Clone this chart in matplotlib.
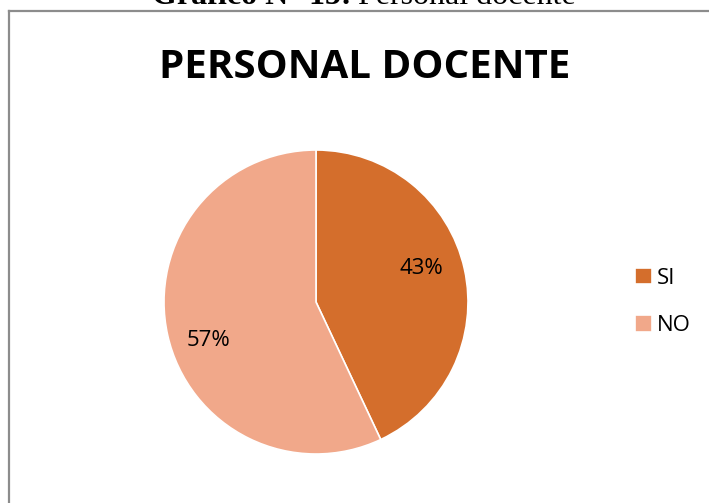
import matplotlib
matplotlib.use("Agg")
import matplotlib.pyplot as plt
from matplotlib.lines import Line2D

labels = ["SI", "NO"]
values = [43, 57]
colors = ["#D46E2C", "#F1A88A"]
title = "PERSONAL DOCENTE"

W, H = 709, 503
fig = plt.figure(figsize=(W / 100, H / 100), dpi=100)

def fx(px):
    return px / W

def fy(py):
    return 1 - py / H

# frame of the chart area
fig.add_artist(Line2D([fx(8.5), fx(8.5)], [fy(11), fy(510)], color="#8c8c8c", lw=1.6))
fig.add_artist(Line2D([fx(8.5), fx(720)], [fy(11), fy(11)], color="#8c8c8c", lw=1.6))

# caption cut off at top
t1 = fig.text(fx(152), fy(4.5), "Gráfico N° 15:", family="Liberation Serif", fontweight="bold",
              fontsize=23, va="baseline", ha="left")
fig.canvas.draw()
bb = t1.get_window_extent()
fig.text(fx(bb.x1 + 6), fy(4.5), "Personal docente", family="Liberation Serif",
         fontsize=23, va="baseline", ha="left")

fig.text(fx(365), fy(78), title, family="Open Sans", fontweight="bold", fontsize=29,
         va="baseline", ha="center")

r = 152
cx, cy = 316, 302
ax = fig.add_axes([fx(cx - r), fy(cy + r), 2 * r / W, 2 * r / H])
wedges, texts, autotexts = ax.pie(values, colors=colors, startangle=90, counterclock=False,
                                  autopct="%1.0f%%", pctdistance=0.7,
                                  wedgeprops=dict(edgecolor="white", linewidth=1.2),
                                  textprops=dict(family="Open Sans", fontsize=16, color="black"))
ax.set_xlim(-1, 1)
ax.set_ylim(-1, 1)
ax.set_aspect("auto")
autotexts[0].set_position((0.69, 0.22))
autotexts[1].set_position((-0.71, -0.25))

leg = fig.legend(wedges, labels, loc="center left", bbox_to_anchor=(fx(615), fy(302)),
                 frameon=False, prop=dict(family="Open Sans", size=16),
                 handlelength=0.75, handleheight=0.75, handletextpad=0.25, labelspacing=1.2)

fig.savefig("out.png", dpi=100)
